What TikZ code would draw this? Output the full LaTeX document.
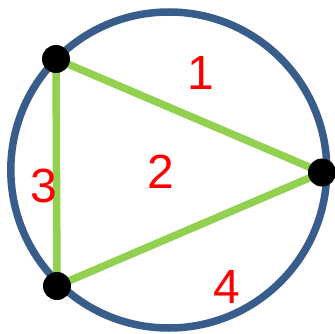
\documentclass[tikz,border=0pt]{standalone}
\usepackage{fontspec}
\setmainfont{Liberation Sans}
\usetikzlibrary{backgrounds}
\definecolor{ringblue}{HTML}{385D8A}
\definecolor{sidegreen}{HTML}{92D050}
\begin{document}
\begin{tikzpicture}[x=1pt,y=-1pt,
    vertex/.style={circle,fill=black,minimum size=28pt,inner sep=0pt},
    side/.style={draw=sidegreen,line width=7.5pt},
    region/.style={text=red,font=\fontsize{48}{48}\selectfont,inner sep=0pt}]
                        \useasboundingbox (0,0) rectangle (334,334);
                        \node[vertex] (A) at (56,59) {};
                        \node[vertex] (B) at (322,172.5) {};
                        \node[vertex] (C) at (57,286) {};
                        \node[region] (r1) at (201,72.5) {1};
                        \node[region] (r2) at (161,172) {2};
                        \node[region] (r3) at (44,186) {3};
                        \node[region] (r4) at (227,286.5) {4};
                        \begin{pgfonlayer}{background}
                        \draw[ringblue,line width=7.5pt] (168.8,170) circle[radius=158];
                        \path[side]
                        (A.center) edge (B.center)
                        (B.center) edge (C.center)
                        (C.center) edge (A.center);
                        \end{pgfonlayer}
                        \end{tikzpicture}
\end{document}
